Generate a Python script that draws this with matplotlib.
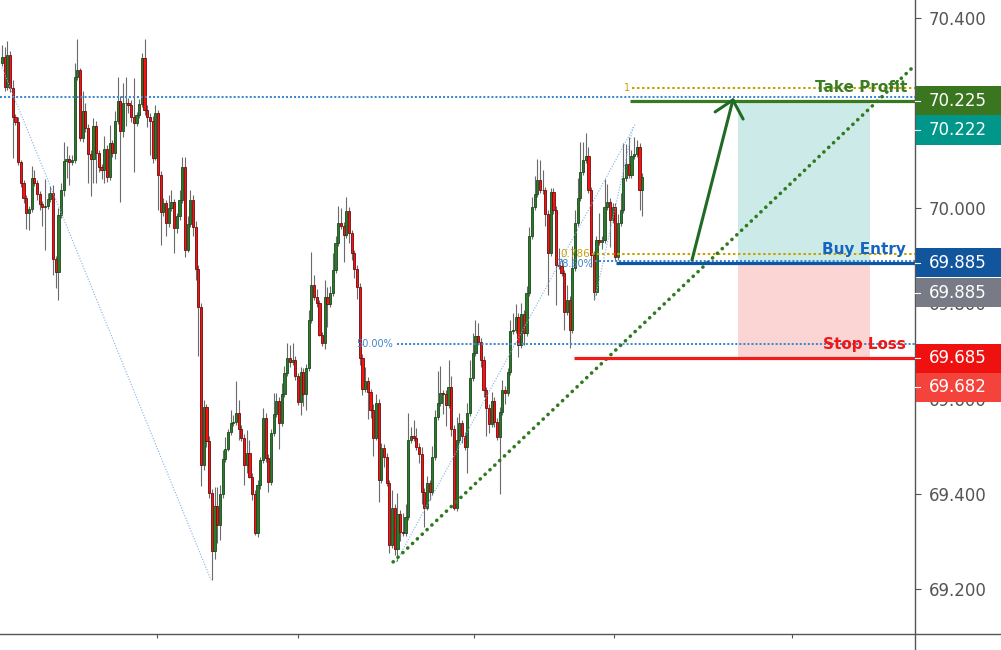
import matplotlib
matplotlib.use("Agg")
import matplotlib.pyplot as plt
from matplotlib.patches import Rectangle
from matplotlib.lines import Line2D
from matplotlib.transforms import blended_transform_factory
import numpy as np

# ---------------- data ----------------
first_open = 70.305
closes = [
    70.317, 70.254, 70.322, 70.252, 70.191, 70.181, 70.096, 70.053, 70.022, 69.989,
    69.998, 70.063, 70.053, 70.029, 70.008, 70.002, 70.005, 70.019, 70.031, 69.894,
    69.866, 69.986, 70.037, 70.099, 70.103, 70.096, 70.100, 70.275, 70.289, 70.147,
    70.203, 70.168, 70.113, 70.103, 70.172, 70.115, 70.087, 70.079, 70.124, 70.066,
    70.136, 70.115, 70.182, 70.225, 70.161, 70.220, 70.221, 70.217, 70.192, 70.178,
    70.195, 70.219, 70.315, 70.206, 70.191, 70.182, 70.106, 70.199, 70.069, 69.992,
    70.010, 69.969, 70.000, 70.013, 69.958, 69.983, 70.016, 70.087, 69.913, 69.967,
    70.017, 69.961, 69.872, 69.792, 69.460, 69.582, 69.510, 69.402, 69.279, 69.374,
    69.335, 69.399, 69.473, 69.495, 69.530, 69.548, 69.550, 69.569, 69.536, 69.517,
    69.460, 69.485, 69.435, 69.399, 69.318, 69.418, 69.471, 69.559, 69.475, 69.425,
    69.528, 69.567, 69.595, 69.549, 69.609, 69.653, 69.685, 69.677, 69.681, 69.647,
    69.593, 69.656, 69.609, 69.664, 69.765, 69.839, 69.814, 69.800, 69.733, 69.716,
    69.814, 69.799, 69.821, 69.870, 69.926, 69.968, 69.963, 69.944, 69.994, 69.947,
    69.905, 69.872, 69.835, 69.685, 69.620, 69.637, 69.613, 69.575, 69.518, 69.591,
    69.429, 69.496, 69.478, 69.422, 69.293, 69.370, 69.284, 69.357, 69.320, 69.318,
    69.352, 69.513, 69.521, 69.517, 69.499, 69.484, 69.404, 69.371, 69.422, 69.404,
    69.477, 69.562, 69.590, 69.611, 69.609, 69.586, 69.624, 69.536, 69.370, 69.513,
    69.548, 69.521, 69.499, 69.569, 69.643, 69.695, 69.731, 69.719, 69.681, 69.617,
    69.580, 69.546, 69.595, 69.551, 69.519, 69.572, 69.619, 69.612, 69.656, 69.742,
    69.744, 69.772, 69.713, 69.777, 69.738, 69.821, 69.941, 70.003, 70.029, 70.059,
    70.038, 70.037, 69.987, 69.905, 70.034, 69.996, 69.880, 69.878, 69.863, 69.782,
    69.807, 69.744, 69.874, 69.969, 70.021, 70.076, 70.101, 70.109, 70.037, 69.901,
    69.824, 69.934, 69.929, 69.933, 70.003, 70.013, 69.975, 70.002, 69.898, 69.969,
    69.996, 70.063, 70.093, 70.070, 70.109, 70.114, 70.129, 70.038, 70.065,
]
upper_wick = [
    0.025, 0.021, 0.029, 0.008, 0.017, 0.006, 0.011, 0.006, 0.006, 0.006,
    0.006, 0.025, 0.017, 0.006, 0.006, 0.006, 0.057, 0.013, 0.015, 0.017,
    0.006, 0.015, 0.015, 0.040, 0.027, 0.008, 0.011, 0.029, 0.067, 0.006,
    0.042, 0.017, 0.008, 0.008, 0.017, 0.011, 0.008, 0.006, 0.027, 0.008,
    0.038, 0.008, 0.021, 0.050, 0.011, 0.042, 0.055, 0.011, 0.011, 0.082,
    0.006, 0.011, 0.011, 0.040, 0.011, 0.008, 0.011, 0.017, 0.008, 0.008,
    0.011, 0.008, 0.027, 0.025, 0.006, 0.006, 0.023, 0.021, 0.021, 0.017,
    0.021, 0.011, 0.011, 0.008, 0.008, 0.015, 0.006, 0.011, 0.008, 0.040,
    0.040, 0.019, 0.019, 0.025, 0.006, 0.027, 0.015, 0.067, 0.027, 0.008,
    0.008, 0.048, 0.027, 0.008, 0.008, 0.011, 0.006, 0.021, 0.011, 0.008,
    0.008, 0.044, 0.017, 0.008, 0.023, 0.015, 0.032, 0.027, 0.036, 0.008,
    0.006, 0.011, 0.008, 0.008, 0.021, 0.069, 0.021, 0.017, 0.008, 0.006,
    0.036, 0.021, 0.015, 0.036, 0.015, 0.036, 0.032, 0.008, 0.029, 0.008,
    0.008, 0.008, 0.008, 0.008, 0.008, 0.029, 0.008, 0.008, 0.013, 0.019,
    0.008, 0.011, 0.008, 0.008, 0.008, 0.038, 0.008, 0.044, 0.008, 0.040,
    0.027, 0.057, 0.019, 0.034, 0.021, 0.008, 0.015, 0.008, 0.015, 0.008,
    0.023, 0.015, 0.067, 0.057, 0.008, 0.008, 0.057, 0.023, 0.008, 0.048,
    0.021, 0.008, 0.008, 0.021, 0.038, 0.042, 0.034, 0.027, 0.008, 0.008,
    0.008, 0.008, 0.019, 0.008, 0.008, 0.011, 0.019, 0.008, 0.008, 0.023,
    0.036, 0.027, 0.008, 0.023, 0.008, 0.015, 0.019, 0.021, 0.038, 0.044,
    0.042, 0.042, 0.008, 0.008, 0.008, 0.008, 0.008, 0.036, 0.013, 0.008,
    0.032, 0.008, 0.046, 0.027, 0.042, 0.063, 0.038, 0.048, 0.019, 0.008,
    0.008, 0.008, 0.055, 0.008, 0.059, 0.038, 0.008, 0.008, 0.008, 0.019,
    0.036, 0.074, 0.042, 0.057, 0.013, 0.036, 0.015, 0.008, 0.008,
]
lower_wick = [
    0.006, 0.008, 0.006, 0.008, 0.086, 0.006, 0.006, 0.008, 0.011, 0.032,
    0.036, 0.006, 0.006, 0.011, 0.011, 0.040, 0.090, 0.006, 0.006, 0.034,
    0.034, 0.059, 0.006, 0.011, 0.036, 0.048, 0.006, 0.006, 0.006, 0.006,
    0.008, 0.008, 0.061, 0.078, 0.050, 0.063, 0.011, 0.017, 0.027, 0.011,
    0.008, 0.008, 0.011, 0.006, 0.149, 0.011, 0.048, 0.017, 0.011, 0.103,
    0.006, 0.006, 0.006, 0.011, 0.021, 0.071, 0.011, 0.006, 0.074, 0.069,
    0.008, 0.027, 0.008, 0.006, 0.053, 0.011, 0.008, 0.006, 0.015, 0.006,
    0.006, 0.019, 0.023, 0.103, 0.044, 0.011, 0.011, 0.011, 0.061, 0.015,
    0.038, 0.032, 0.008, 0.006, 0.006, 0.006, 0.006, 0.006, 0.023, 0.006,
    0.042, 0.017, 0.002, 0.013, 0.004, 0.008, 0.008, 0.006, 0.008, 0.021,
    0.006, 0.006, 0.006, 0.055, 0.006, 0.006, 0.006, 0.011, 0.006, 0.008,
    0.006, 0.027, 0.025, 0.034, 0.006, 0.006, 0.008, 0.008, 0.002, 0.006,
    0.011, 0.048, 0.006, 0.006, 0.006, 0.006, 0.006, 0.057, 0.006, 0.021,
    0.015, 0.019, 0.025, 0.015, 0.013, 0.006, 0.055, 0.015, 0.038, 0.006,
    0.046, 0.006, 0.021, 0.006, 0.017, 0.006, 0.013, 0.025, 0.019, 0.006,
    0.006, 0.006, 0.006, 0.006, 0.006, 0.019, 0.025, 0.040, 0.006, 0.017,
    0.006, 0.006, 0.006, 0.006, 0.042, 0.044, 0.006, 0.015, 0.004, 0.006,
    0.006, 0.015, 0.006, 0.055, 0.006, 0.006, 0.006, 0.006, 0.015, 0.013,
    0.059, 0.019, 0.006, 0.011, 0.006, 0.120, 0.006, 0.023, 0.006, 0.006,
    0.006, 0.006, 0.025, 0.006, 0.025, 0.006, 0.006, 0.006, 0.006, 0.006,
    0.006, 0.008, 0.025, 0.088, 0.006, 0.008, 0.084, 0.006, 0.006, 0.038,
    0.006, 0.038, 0.006, 0.006, 0.006, 0.006, 0.006, 0.006, 0.006, 0.025,
    0.017, 0.006, 0.006, 0.015, 0.006, 0.006, 0.057, 0.006, 0.006, 0.006,
    0.006, 0.006, 0.006, 0.006, 0.006, 0.006, 0.006, 0.042, 0.055,
]

price_ticks = [69.2, 69.4, 69.6, 69.8, 70.0, 70.2, 70.4]
date_tick_pos = [57.6, 110.0, 175.5, 227.5, 293.7]
date_tick_labels = ["15", "16", "21", "22", "23"]

# trade levels
take_profit = 70.225
buy_entry = 69.885
stop_loss = 69.685
pos_target = 70.222
pos_stop = 69.682

# fibonacci levels
fib_top = 70.234
fib_50 = 69.715
fib_786 = 69.889
ext_1 = 70.252
ext_786 = 69.903

# anchors (bar index, price)
fib_a = [(0.0, 70.295), (77.7, 69.219)]
fib_b = [(146.5, 69.257), (235.3, 70.175)]
fib_c = [(220.4, 69.809), (234.6, 70.170)]
trend = [(145.4, 69.257), (339.4, 70.300)]
arrow_tail = (256.5, 69.891)
arrow_tip = (271.7, 70.227)
arrow_arms = [(265.1, 70.202), (275.5, 70.187)]
box_x = (273.6, 322.7)

scale_labels = [
    ("70.225", 70.225, "#3a761f"),
    ("70.222", 70.164, "#00968a"),
    ("69.885", 69.885, "#11559c"),
    ("69.885", 69.822, "#787b86"),
    ("69.685", 69.685, "#ef1010"),
    ("69.682", 69.624, "#f4433a"),
]

# ---------------- figure ----------------
W, H = 1001, 650
AXR, AXB = 915, 634
fig = plt.figure(figsize=(W / 100, H / 100), dpi=100)
fig.patch.set_facecolor("white")
ax = fig.add_axes([0, (H - AXB) / H, AXR / W, AXB / H])
XMIN, XMAX = -0.743, 339.4
ax.set_xlim(XMIN, XMAX)
ax.set_ylim(69.1056, 70.437)

n = len(closes)
x = np.arange(n)
c = np.array(closes)
o = np.array([first_open] + closes[:-1])
hi = np.maximum(o, c) + np.array(upper_wick)
lo = np.minimum(o, c) - np.array(lower_wick)
up = c >= o

ax.vlines(x, lo, hi, color="#6b6b6b", lw=0.8, zorder=2)
bottoms = np.minimum(o, c)
heights = np.maximum(np.abs(c - o), 0.0015)
faces = np.where(up, "#2b7a2b", "#ff1010")
edges = np.where(up, "#1c4a1c", "#6a0c0c")
ax.bar(x, heights, bottom=bottoms, width=0.8, color=faces, edgecolor=edges,
       linewidth=0.6, zorder=3)

# position tool boxes
ax.add_patch(Rectangle((box_x[0], buy_entry), box_x[1] - box_x[0], pos_target - buy_entry,
                       facecolor="#cceae7", edgecolor="none", zorder=1))
ax.add_patch(Rectangle((box_x[0], pos_stop), box_x[1] - box_x[0], buy_entry - pos_stop,
                       facecolor="#fad5d3", edgecolor="none", zorder=1))
ax.plot(box_x, [buy_entry, buy_entry], color="#8a8a8a", lw=0.8, zorder=1.5)

blue = "#3f88d0"
gold = "#c9a000"
dot_blue = dict(color=blue, lw=1.45, linestyle=(0, (1, 1)), zorder=4)
dot_gold = dict(color=gold, lw=1.45, linestyle=(0, (1.2, 1.3)), zorder=4)

# fib horizontal levels
ax.plot([XMIN, XMAX], [fib_top, fib_top], **dot_blue)
ax.plot([146.8, XMAX], [fib_50, fib_50], **dot_blue)
ax.plot([220.4, XMAX], [fib_786, fib_786], **dot_blue)
ax.plot([219.3, XMAX], [ext_786, ext_786], **dot_gold)
ax.plot([234.2, XMAX], [ext_1, ext_1], **dot_gold)

ax.text(131.6, fib_50, "50.00%", color="#3d85d0", fontsize=7, va="center", ha="left", zorder=5)
ax.text(206.0, buy_entry - 0.002, "78.60%", color="#3d85d0", fontsize=7, va="center", ha="left", zorder=5)
ax.text(207.4, ext_786, "0.786", color=gold, fontsize=7.5, va="center", ha="left", zorder=6)
ax.text(231.2, ext_1, "1", color=gold, fontsize=7, va="center", ha="left", zorder=6)

# fib diagonals
for seg in (fib_a, fib_b, fib_c):
    ax.plot([seg[0][0], seg[1][0]], [seg[0][1], seg[1][1]], color="#7fb2ea",
            lw=0.8, linestyle=(0, (1, 1.5)), zorder=4)

# trend line (green dots)
ln = Line2D([trend[0][0], trend[1][0]], [trend[0][1], trend[1][1]], color="#2f7a1e",
            lw=2.6, linestyle=(0, (0.05, 1.8)), dash_capstyle="round", zorder=4)
ax.add_line(ln)

# trade lines
ax.plot([233.5, XMAX], [take_profit, take_profit], color="#3a7a1f", lw=2.3, zorder=5,
        solid_capstyle="butt")
ax.plot([228.3, XMAX], [buy_entry, buy_entry], color="#0d56a6", lw=2.3, zorder=5,
        solid_capstyle="butt")
ax.plot([212.6, XMAX], [stop_loss, stop_loss], color="#f21b1b", lw=2.3, zorder=5,
        solid_capstyle="butt")

ax.text(336.4, 70.254, "Take Profit", color="#3b7d23", fontsize=11, fontweight="bold",
        ha="right", va="center", zorder=6)
ax.text(336.1, 69.914, "Buy Entry", color="#1565c0", fontsize=11, fontweight="bold",
        ha="right", va="center", zorder=6)
ax.text(336.1, 69.713, "Stop Loss", color="#f01616", fontsize=11, fontweight="bold",
        ha="right", va="center", zorder=6)

# arrow
acol = "#1f6b25"
ax.plot([arrow_tail[0], arrow_tip[0]], [arrow_tail[1], arrow_tip[1]], color=acol, lw=2.2,
        zorder=6, solid_capstyle="round")
for arm in arrow_arms:
    ax.plot([arm[0], arrow_tip[0]], [arm[1], arrow_tip[1]], color=acol, lw=2.2,
            zorder=6, solid_capstyle="round")

# axes styling
for s in ("top", "left", "bottom", "right"):
    ax.spines[s].set_visible(False)
ax.yaxis.tick_right()
ax.set_yticks(price_ticks)
ax.set_yticklabels([f"{t:.3f}" for t in price_ticks])
ax.tick_params(axis="y", colors="#555555", labelsize=12, length=4, width=0.8, pad=6)
ax.set_xticks(date_tick_pos)
ax.set_xticklabels(date_tick_labels)
ax.tick_params(axis="x", colors="#555555", labelsize=12, length=3, width=0.8, pad=9)
ax.set_facecolor("white")

# axis lines across figure
fig.add_artist(Line2D([0, 1], [(H - AXB) / H] * 2, transform=fig.transFigure,
                      color="#555555", lw=1.0))
fig.add_artist(Line2D([AXR / W] * 2, [0, 1], transform=fig.transFigure,
                      color="#555555", lw=1.0))

# price scale labels
trans = blended_transform_factory(fig.transFigure, ax.transData)
bh = 0.061
for txt, yc, col in scale_labels:
    fig.add_artist(Rectangle((AXR / W + 0.0005, yc - bh / 2), (W - AXR) / W, bh,
                             transform=trans, facecolor=col, edgecolor="none", zorder=10,
                             clip_on=False))
    fig.add_artist(Line2D([AXR / W, (AXR + 5) / W], [yc, yc], transform=trans,
                          color="white", lw=0.8, zorder=11))
    fig.text(929 / W, yc, txt, transform=trans, color="white", fontsize=12,
             va="center", ha="left", zorder=12)

fig.savefig("out.png", dpi=100)
